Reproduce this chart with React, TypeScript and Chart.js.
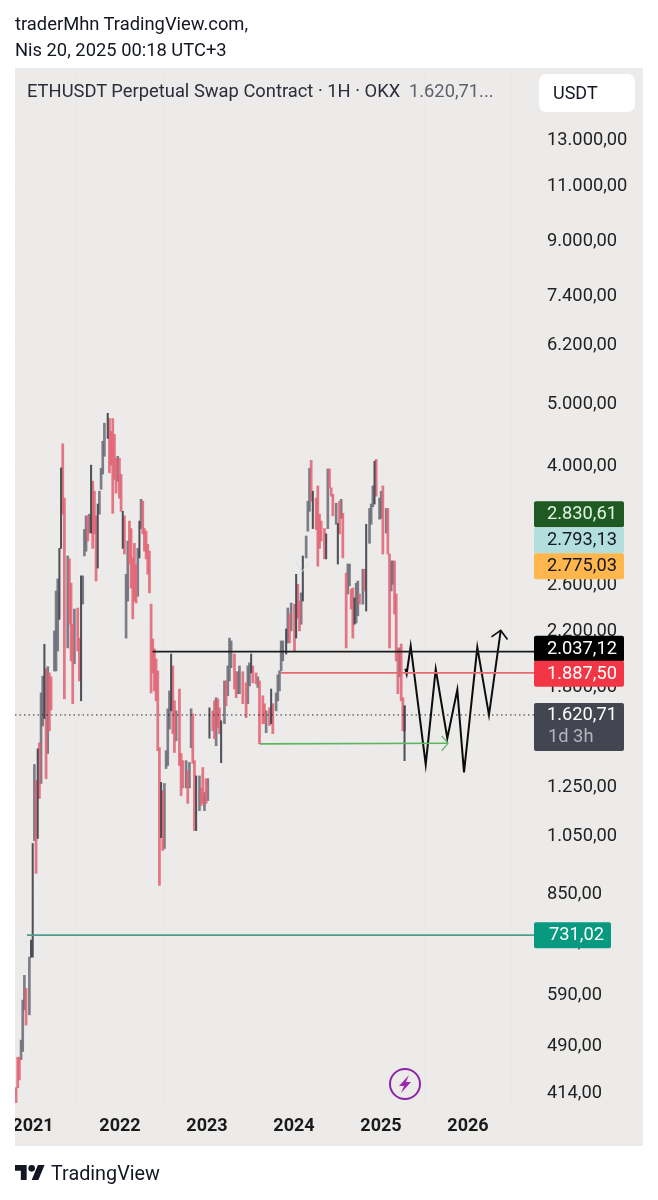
import React, { useEffect, useRef } from "react";
import { Chart, registerables } from "chart.js";

Chart.register(...registerables);

const FONT = "Roboto";
const headerLines = ["traderMhn TradingView.com,", "Nis 20, 2025 00:18 UTC+3"];
const title = "ETHUSDT Perpetual Swap Contract · 1H · OKX";
const titleLast = "1.620,71...";
const yearTicks = [2021, 2022, 2023, 2024, 2025, 2026];
const priceTicks = [13000, 11000, 9000, 7400, 6200, 5000, 4000, 2600, 2200, 1800, 1250, 1050, 850, 715, 590, 490, 414];

// weekly candles: week number since the first bar, high, low, kind (r fall, g rise, d rise with thin stroke)
const weeks = [
  0, 1, 2, 3, 4, 5, 6, 8, 9, 10, 11, 12,
  13, 14, 15, 16, 17, 18, 19, 20, 21, 23,
  24, 25, 26, 27, 28, 29, 31, 32, 33, 34,
  35, 37, 38, 39, 40, 41, 42, 43, 44, 45,
  46, 47, 48, 49, 50, 51, 52, 53, 55, 56,
  57, 58, 59, 60, 61, 62, 63, 64, 65, 66,
  67, 68, 69, 70, 71, 72, 73, 74, 75, 76,
  77, 78, 79, 80, 81, 82, 83, 84, 85, 86,
  87, 88, 89, 90, 91, 92, 93, 94, 95, 96,
  98, 99, 100, 102, 103, 104, 105, 106, 107, 108,
  110, 111, 112, 113, 114, 115, 116, 118, 119, 120,
  121, 122, 123, 125, 126, 127, 128, 129, 131, 132,
  133, 134, 136, 138, 139, 140, 141, 142, 144, 145,
  146, 148, 149, 150, 152, 153, 154, 156, 157, 158,
  159, 160, 162, 163, 164, 165, 167, 168, 169, 170,
  171, 172, 174, 175, 176, 177, 178, 180, 181, 182,
  183, 185, 186, 187, 188, 189, 190, 192, 193, 194,
  195, 196, 198, 199, 200, 201, 202, 203, 204, 205,
  206, 208, 209, 210, 212, 213, 214, 215, 216, 218,
  219, 220, 222, 223, 224, 225, 226, 227, 228, 229,
  230, 231, 232, 233, 233,
];
const highs = [
  421, 470, 470, 500, 578, 632, 603, 675, 718, 1018, 1355, 1278,
  1434, 1465, 1755, 1865, 2093, 1915, 1930, 1887, 1860, 2196,
  2537, 2650, 2960, 3960, 4320, 3550, 2880, 2850, 2610, 2250,
  2377, 2386, 2140, 2680, 2680, 3170, 3330, 3330, 3350, 4000,
  3775, 3640, 3330, 3475, 3640, 3955, 4360, 4655, 4825, 4735,
  4520, 4735, 4470, 4100, 4130, 4100, 3870, 3385, 3330, 2695,
  3040, 3267, 3180, 2860, 3015, 2790, 2960, 3267, 3535, 3510,
  3180, 3150, 3005, 2930, 2420, 2133, 2058, 1985, 1901, 1440,
  1270, 1233, 1265, 1424, 1657, 1768, 2020, 1935, 1706, 1645,
  1780, 1410, 1374, 1374, 1325, 1365, 1657, 1627, 1374, 1300,
  1300, 1245, 1340, 1224, 1287, 1287, 1663, 1645, 1706, 1725,
  1718, 1663, 1587, 1833, 1833, 1935, 2140, 2118, 2020, 1895,
  1895, 1935, 1895, 1820, 1935, 1957, 2020, 1935, 1887, 1860,
  1833, 1737, 1688, 1645, 1663, 1780, 1688, 1755, 1873, 1901,
  2118, 2118, 2212, 2386, 2335, 2430, 2420, 2695, 2600, 2447,
  2520, 2880, 3095, 3510, 3955, 4070, 3640, 3550, 3710, 3350,
  3267, 3180, 3120, 3945, 3945, 3685, 3600, 3485, 3240, 3510,
  3535, 3360, 2707, 2797, 2797, 2555, 2565, 2475, 2610, 2630,
  2510, 2745, 2745, 3230, 3420, 3475, 3710, 4057, 4085, 3550,
  3640, 3710, 3420, 3420, 2900, 2828, 2828, 2828, 2510, 2065,
  2065, 2095, 1725, 1675, 1675,
];
const lows = [
  399, 421, 433, 466, 480, 558, 528, 548, 675, 675, 1029, 914,
  1037, 1198, 1265, 1558, 1600, 1287, 1410, 1530, 1650, 1900,
  1900, 2043, 2290, 2960, 3350, 1718, 2065, 2250, 1971, 1688,
  1950, 2043, 1833, 1706, 2420, 2880, 2930, 3040, 3130, 3130,
  2960, 3120, 2630, 2757, 3350, 3665, 3873, 4130, 4405, 3890,
  4000, 3360, 3800, 3615, 3775, 3550, 3385, 2960, 2900, 2140,
  2447, 2797, 2565, 2294, 2447, 2430, 2490, 2860, 3180, 3120,
  2930, 2850, 2695, 2520, 1755, 1887, 1768, 1706, 1424, 875,
  1040, 993, 1000, 1335, 1350, 1540, 1645, 1515, 1415, 1476,
  1350, 1210, 1245, 1245, 1177, 1245, 1440, 1360, 1067, 1067,
  1147, 1168, 1177, 1147, 1177, 1189, 1490, 1530, 1487, 1450,
  1547, 1515, 1364, 1570, 1675, 1737, 1833, 1922, 1780, 1725,
  1750, 1750, 1688, 1605, 1688, 1800, 1887, 1820, 1813, 1790,
  1460, 1570, 1570, 1520, 1560, 1570, 1515, 1645, 1706, 1768,
  1901, 1971, 2020, 2103, 2103, 2196, 2043, 2140, 2300, 2196,
  2250, 2447, 2860, 3150, 3385, 3510, 3180, 3170, 2775, 2960,
  3040, 2850, 2850, 3180, 3685, 3575, 3330, 3230, 2797, 3120,
  3300, 2860, 2065, 2510, 2585, 2377, 2140, 2250, 2260, 2320,
  2420, 2420, 2537, 2360, 3015, 3230, 3440, 3475, 3575, 3290,
  3300, 2900, 3130, 2900, 2065, 2537, 2600, 2335, 1971, 1750,
  1860, 1706, 1530, 1374, 1530,
];
const kinds =
  "rrrgggrgddgr" + "drggdrgrrg" + "ggddrrgrrr" + "grrdgggrgd" +
  "rrrdggggdr" + "rrrrgrrdrg" + "grrrrrgdgr" + "rrrrrrrrrr" +
  "drggggdrrg" + "rrrgrggrrd" + "grrgrgdrrg" + "rrdgrgggrr" +
  "ggrrggdrrg" + "rrrgrdrggg" + "ggdgrgrdrr" + "gdgggrdrrr" +
  "rrdgrrrgdr" + "grrggrrdgg" + "rgrdgggdrg" + "grgrrggrrr" +
  "grrdg";

// drawn annotations (year, price)
const blackZigzagYears = [2025.28, 2025.295, 2025.341, 2025.514, 2025.629, 2025.762, 2025.877, 2025.954, 2026.107, 2026.241, 2026.376];
const blackZigzagPrices = [1915, 1880, 2080, 1355, 1912, 1490, 1775, 1317, 2070, 1620, 2200];
const arrowHeadYears = [2026.27, 2026.376, 2026.454];
const arrowHeadPrices = [2150, 2200, 2130];
const greenYears = [2023.609, 2025.77];
const greenPrices = [1460, 1463];
const greenHeadYears = [2025.698, 2025.77, 2025.698];
const greenHeadPrices = [1503, 1463, 1424];
const chevronYears = [2024.023, 2024.092, 2024.172];
const chevronPrices = [2828, 2720, 2818];

const AXIS_LEFT = 2020.793;
const AXIS_RIGHT = 2026.77;
const FIRST_BAR_YEAR = 2020.805;
const WEEKS_PER_YEAR = 52.18;

const levelBlack = 2037.12;
const levelRed = 1887.5;
const levelLast = 1620.71;
const levelTeal = 731.02;

type Badge = { text: string; value: number; bg: string; fg: string; shift: number; w?: number };
const badges: Badge[] = [
  { text: "2.830,61", value: 2775.03, bg: "#1e5a22", fg: "#e2f3e2", shift: -52 },
  { text: "2.793,13", value: 2775.03, bg: "#b2dfdb", fg: "#131722", shift: -26 },
  { text: "2.775,03", value: 2775.03, bg: "#ffb74d", fg: "#131722", shift: 0 },
  { text: "2.037,12", value: 2037.12, bg: "#000000", fg: "#ffffff", shift: -3 },
  { text: "1.887,50", value: 1887.5, bg: "#f23645", fg: "#ffffff", shift: 1 },
  { text: "731,02", value: 731.02, bg: "#089981", fg: "#ffffff", shift: 0, w: 77 },
];

const rows = (k: string) =>
  weeks
    .map((w, i) => ({ x: FIRST_BAR_YEAR + w / WEEKS_PER_YEAR, y: [lows[i], highs[i]], k: kinds[i] }))
    .filter((d) => d.k === k);

const pts = (xs: number[], ys: number[]) => xs.map((x, i) => ({ x, y: ys[i] }));

const fmt = (v: number) =>
  v.toLocaleString("de-DE", { minimumFractionDigits: 2, maximumFractionDigits: 2 });

function rr(ctx: CanvasRenderingContext2D, x: number, y: number, w: number, h: number, r: number) {
  ctx.beginPath();
  ctx.roundRect(x, y, w, h, r);
  ctx.fill();
}

const panelPlugin = {
  id: "panel",
  beforeDraw(chart: any) {
    const { ctx } = chart;
    ctx.save();
    ctx.fillStyle = "#ecebea";
    ctx.fillRect(15, 68, 628, 1078);
    ctx.restore();
  },
  afterDraw(chart: any) {
    const { ctx } = chart;
    const y = chart.scales.y;
    ctx.save();
    ctx.fillStyle = "#ffffff";
    ctx.fillRect(0, 1105, 15, 45);
    ctx.font = `18.3px ${FONT}`;
    ctx.textBaseline = "middle";
    ctx.textAlign = "right";
    for (const b of badges) {
      const cy = y.getPixelForValue(b.value) + b.shift;
      const w = b.w ?? 90;
      ctx.fillStyle = b.bg;
      rr(ctx, 534, cy - 13, w, 26, 2);
      ctx.fillStyle = b.fg;
      ctx.fillText(b.text, 534 + w - 7, cy + 0.5);
    }
    const ly = y.getPixelForValue(levelLast);
    ctx.fillStyle = "#434651";
    rr(ctx, 534, ly - 12, 90, 48, 2);
    ctx.fillStyle = "#ffffff";
    ctx.fillText(fmt(levelLast), 617, ly + 0.5);
    ctx.fillStyle = "#b2b5be";
    ctx.textAlign = "left";
    ctx.fillText("1d 3h", 548, ly + 22);
    // purple flash badge
    ctx.strokeStyle = "#8e24aa";
    ctx.lineWidth = 2;
    ctx.beginPath();
    ctx.arc(405, 1084, 15, 0, Math.PI * 2);
    ctx.stroke();
    ctx.fillStyle = "#9c27b0";
    ctx.beginPath();
    ctx.moveTo(409, 1075);
    ctx.lineTo(399, 1086);
    ctx.lineTo(404, 1086);
    ctx.lineTo(401, 1093);
    ctx.lineTo(411, 1082);
    ctx.lineTo(406, 1082);
    ctx.closePath();
    ctx.fill();
    ctx.restore();
  },
};

export default function App() {
  const ref = useRef<HTMLCanvasElement>(null);
  useEffect(() => {
    const line = (data: any[], color: string, width: number, dash: number[] = []) => ({
      type: "line" as const,
      data,
      borderColor: color,
      borderWidth: width,
      borderDash: dash,
      pointRadius: 0,
      tension: 0,
      order: 1,
    });
    const bars = (k: string, color: string, thickness: number, order: number) => ({
      type: "bar" as const,
      data: rows(k),
      backgroundColor: color,
      borderWidth: 0,
      barThickness: thickness,
      grouped: false,
      order,
    });
    const chart = new Chart(ref.current!, {
      data: {
        datasets: [
          bars("g", "rgba(104,106,118,0.85)", 2, 4),
          bars("r", "rgba(226,98,114,0.85)", 2.1, 3),
          bars("d", "rgba(62,64,74,0.9)", 1.4, 2),
          line(pts([AXIS_LEFT, AXIS_RIGHT], [levelLast, levelLast]), "#2a2a2a", 1, [1.5, 3]),
          line(pts([2022.374, AXIS_RIGHT], [levelBlack, levelBlack]), "#1c1c1c", 1.7),
          line(pts([2023.851, AXIS_RIGHT], [levelRed, levelRed]), "#e56a72", 1.7),
          line(pts([2020.931, AXIS_RIGHT], [levelTeal, levelTeal]), "#4a9f90", 1.8),
          line(pts(greenYears, greenPrices), "#5cb660", 1.6),
          line(pts(greenHeadYears, greenHeadPrices), "#5cb660", 1.2),
          line(pts(chevronYears, chevronPrices), "#cfe0dd", 1),
          line(pts(blackZigzagYears, blackZigzagPrices), "#0c0c0c", 2),
          line(pts(arrowHeadYears, arrowHeadPrices), "#0c0c0c", 1.6),
        ] as any,
      },
      plugins: [panelPlugin],
      options: {
        animation: false,
        responsive: false,
        events: [],
        layout: { padding: { left: 15, top: 68, right: 15, bottom: 54 } },
        plugins: { legend: { display: false }, tooltip: { enabled: false }, title: { display: false } },
        scales: {
          x: {
            type: "linear",
            offset: false,
            min: AXIS_LEFT,
            max: AXIS_RIGHT,
            afterBuildTicks: (s: any) => {
              s.ticks = yearTicks.map((value) => ({ value }));
            },
            afterFit: (s: any) => {
              s.height = 41;
            },
            grid: { color: "rgba(0,0,0,0.012)", drawTicks: false },
            border: { display: false },
            ticks: {
              autoSkip: false,
              maxRotation: 0,
              padding: 11,
              color: "#1a1a1a",
              font: { family: FONT, size: 18, weight: "bold" },
              callback: (v: any) => String(v),
            },
          },
          y: {
            type: "logarithmic",
            position: "right",
            min: 395.5,
            max: 16817,
            afterBuildTicks: (s: any) => {
              s.ticks = priceTicks.map((value) => ({ value }));
            },
            afterFit: (s: any) => {
              s.width = 108;
            },
            grid: { color: "rgba(0,0,0,0.012)", drawTicks: false },
            border: { display: false },
            ticks: {
              autoSkip: false,
              crossAlign: "near",
              padding: 12,
              labelOffset: 1,
              color: "#222222",
              font: { family: FONT, size: 18.3 },
              callback: (v: any) => fmt(Number(v)),
            },
          },
        },
      } as any,
    });
    return () => chart.destroy();
  }, []);

  const text = (left: number, top: number, size: number, color: string): React.CSSProperties => ({
    position: "absolute",
    left,
    top,
    fontFamily: FONT,
    fontSize: size,
    lineHeight: "24px",
    color,
    whiteSpace: "nowrap",
  });

  return (
    <div style={{ position: "absolute", left: 0, top: 0, width: 658, height: 1200, background: "#fff", overflow: "hidden" }}>
      <canvas ref={ref} width={658} height={1200} style={{ position: "absolute", left: 0, top: 0, width: 658, height: 1200 }} />
      <div style={text(15, 12, 18.35, "#131722")}>{headerLines[0]}</div>
      <div style={text(15, 38, 18.35, "#131722")}>{headerLines[1]}</div>
      <div style={text(27, 79, 18.35, "#2a2e39")}>{title}</div>
      <div style={text(409, 79, 18.3, "#5d606b")}>{titleLast}</div>
      <div style={{ position: "absolute", left: 539, top: 74, width: 96, height: 38, background: "#fff", borderRadius: 7 }} />
      <div style={text(553, 81, 18, "#131722")}>USDT</div>
      <svg style={{ position: "absolute", left: 15, top: 1165 }} width={30} height={15} viewBox="0 4 36 18">
        <path d="M14 22H7V11H0V4h14v18zM28 22h-8l7.5-18h8L28 22z" fill="#131722" />
        <circle cx={20} cy={8} r={4} fill="#131722" />
      </svg>
      <div style={text(51, 1162, 19.8, "#131722")}>TradingView</div>
    </div>
  );
}
